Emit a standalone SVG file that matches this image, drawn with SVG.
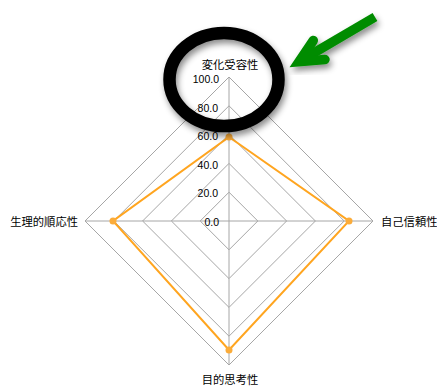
<svg xmlns="http://www.w3.org/2000/svg" width="437" height="388" viewBox="0 0 437 388">
<style>
.grid{fill:none;stroke:#a6a6a6;stroke-width:1}
.tick{font-family:"Liberation Sans",Arial,sans-serif;font-size:10.5px;fill:#000;text-anchor:end}
.axl{font-family:"Noto Sans CJK JP","Noto Sans CJK SC",sans-serif;font-size:11.3px;fill:#000}
.data{fill:none;stroke:#ffa51f;stroke-width:2;stroke-linejoin:miter}
.pt{fill:#fbac3a}
</style>
<defs>
<filter id="sh" x="-30%" y="-30%" width="160%" height="160%">
<feDropShadow dx="2" dy="4" stdDeviation="3" flood-color="#000" flood-opacity="0.45"/>
</filter>
</defs>
<rect width="437" height="388" fill="#fff"/>
<g id="grid">
<polygon class="grid" points="229,192.2 257.8,221 229,249.8 200.2,221"/>
<polygon class="grid" points="229,163.4 286.6,221 229,278.6 171.4,221"/>
<polygon class="grid" points="229,134.6 315.4,221 229,307.4 142.6,221"/>
<polygon class="grid" points="229,105.8 344.2,221 229,336.2 113.8,221"/>
<polygon class="grid" points="229,77 373,221 229,365 85,221"/>
<line class="grid" x1="229" y1="77" x2="229" y2="365"/>
<line class="grid" x1="85" y1="221" x2="373" y2="221"/>
</g>
<g id="ticks">
<text class="tick" x="219" y="226">0.0</text>
<text class="tick" x="218" y="197">20.0</text>
<text class="tick" x="218" y="169">40.0</text>
<text class="tick" x="218" y="140">60.0</text>
<text class="tick" x="218" y="111.5">80.0</text>
<text class="tick" x="219" y="83">100.0</text>
</g>
<g id="data">
<polygon class="data" points="229,137 349,221 229,350 113,221"/>
<circle class="pt" cx="229" cy="137" r="3.5"/>
<circle class="pt" cx="349" cy="221" r="3.5"/>
<circle class="pt" cx="229" cy="350" r="3.5"/>
<circle class="pt" cx="113" cy="221" r="3.5"/>
</g>
<g id="axis-top"><text class="axl" x="230" y="69" text-anchor="middle">変化受容性</text></g>
<g id="axis-right"><text class="axl" x="381" y="226">自己信頼性</text></g>
<g id="axis-bottom"><text class="axl" x="230" y="384" text-anchor="middle">目的思考性</text></g>
<g id="axis-left"><text class="axl" x="78" y="226" text-anchor="end">生理的順応性</text></g>
<g id="annotations">
<ellipse id="highlight" cx="224" cy="79.5" rx="54.5" ry="46.5" fill="none" stroke="#000" stroke-width="12.5" filter="url(#sh)"/>
<g id="arrow" filter="url(#sh)" stroke="#008c00" fill="none">
<line x1="299" y1="61.6" x2="375" y2="17" stroke-width="9.5" stroke-linecap="butt"/>
<path d="M313.3,40.5 L299,61.6 L325,59.5" stroke-width="9.5" stroke-linecap="round" stroke-linejoin="miter" stroke-miterlimit="10"/>
</g>
</g>
</svg>
